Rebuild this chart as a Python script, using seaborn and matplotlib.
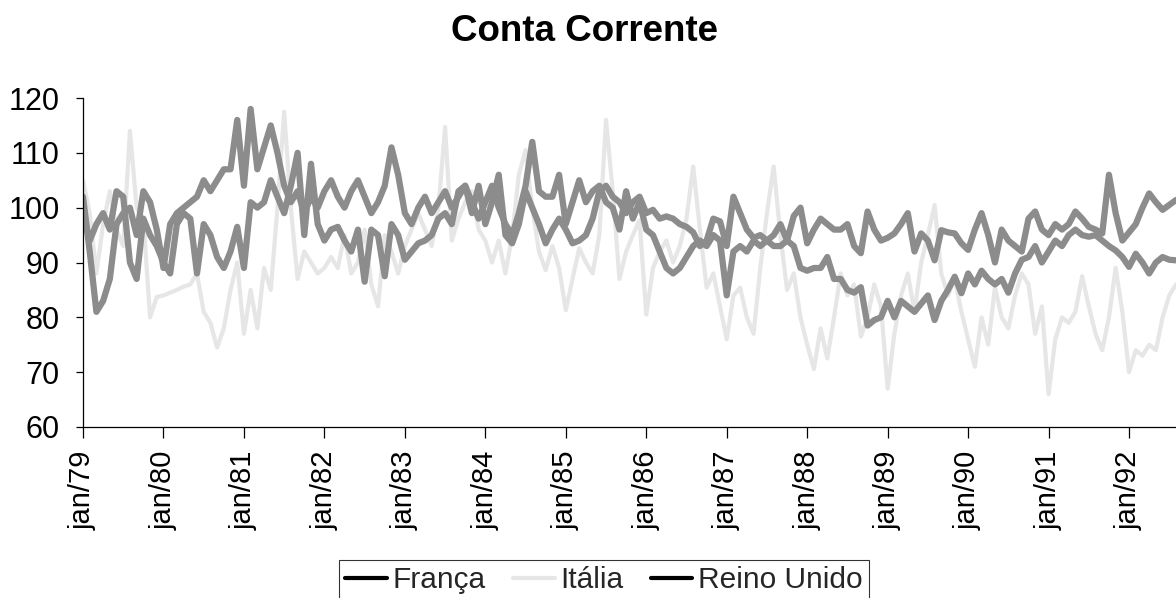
import numpy as np
import pandas as pd
import matplotlib
matplotlib.use("Agg")
import matplotlib.pyplot as plt
from matplotlib.lines import Line2D
import seaborn as sns

# ---------------- data (monthly, jan/79 onwards) ----------------
tick_labels = ["jan/79", "jan/80", "jan/81", "jan/82", "jan/83", "jan/84", "jan/85",
               "jan/86", "jan/87", "jan/88", "jan/89", "jan/90", "jan/91", "jan/92"]

reino_unido = [
    102, 92, 81, 83, 87, 97, 99, 100, 95, 103, 101, 96,            # 1979
    89, 97, 99, 100, 101, 102, 105, 103, 105, 107, 107, 116,       # 1980
    104, 118, 107, 111, 115, 110, 104, 101, 103, 99, 102, 100,     # 1981
    103, 105, 102, 100, 103, 105, 102, 99, 101, 104, 111, 106,     # 1982
    99, 97, 100, 102, 99, 101, 103, 100, 102, 104, 101, 98,        # 1983
    101, 104, 100, 97, 95, 99, 104, 112, 103, 102, 102, 106,       # 1984
    97, 101, 105, 101, 103, 104, 101, 100, 96, 103, 98, 101,       # 1985
    96, 95, 92, 89, 88, 89, 91, 93, 94, 93, 95, 94,                # 1986
    84, 92, 93, 92, 94, 93, 94, 93, 93, 94, 93, 89,                # 1987
    88.5, 89, 89, 91, 87, 87, 85, 84.5, 85.5, 78.5, 79.5, 80,      # 1988
    83, 80, 83, 82, 81, 82.5, 84, 79.5, 83, 85, 87.4, 84.4,        # 1989
    88, 86, 88.5, 87, 86, 87, 84.5, 88, 90.5, 91, 93, 90,          # 1990
    92, 94, 93, 95, 96, 95, 94.7, 95, 94, 93, 92.2, 91,            # 1991
    89.2, 91.6, 90, 88, 90, 91, 90.5, 90.4,                        # 1992
]

franca = [
    99, 94, 97, 99, 96, 103, 102, 90, 87, 98, 95, 93,              # 1979
    90, 88, 97, 99, 98, 88, 97, 95, 91, 89, 92, 96.5,              # 1980
    89, 101, 100, 101, 105, 102, 99, 104, 110, 95, 108, 97,        # 1981
    94, 96, 96.5, 94, 92, 96, 86.5, 96, 95, 87.5, 97, 95,          # 1982
    90.5, 92, 93.5, 94, 95, 98, 99, 97, 103, 104, 99, 104,         # 1983
    97, 101, 106, 95, 93.5, 97, 103, 100, 97, 93.5, 96, 98,        # 1984
    96, 93.5, 94, 95, 98, 103, 104, 102, 101, 99, 101, 102,        # 1985
    99, 99.6, 98, 98.4, 98, 97, 96.5, 95.5, 93, 94, 98, 97.5,      # 1986
    93, 102, 99, 96, 94.5, 95, 94, 95, 97, 94, 98.5, 100,          # 1987
    93.5, 96, 98, 97, 96, 96, 97, 93, 91.7, 99.3, 96, 94,          # 1988
    94.5, 95.3, 97, 99, 92, 95.3, 94, 90.4, 95.9, 95.5, 95.3, 93.5,# 1989
    92.3, 96, 99, 95, 90, 96, 94, 93, 92, 98, 99.3, 96,            # 1990
    95, 97, 96, 97, 99.3, 98, 96.5, 96, 95.3, 106, 99, 94,         # 1991
    95.5, 97, 100, 102.6, 101, 99.6, 100.5, 101.4,                 # 1992
]

italia = [
    105, 99, 88, 97, 103, 96, 93, 114, 100, 98, 80, 83.7,          # 1979
    84, 84.5, 85, 85.6, 86, 88, 81, 79, 74.5, 78, 85, 90,          # 1980
    77, 85, 78, 89, 85, 100, 117.5, 100, 87, 92, 90, 88,           # 1981
    89, 91, 89, 95, 88, 90, 96, 86, 82, 95, 92, 88,                # 1982
    93, 96, 99, 96, 93, 100, 114.7, 94, 98, 101, 103, 96,          # 1983
    94, 90, 94, 88, 95, 106, 110.5, 100, 92, 88.6, 93, 89,         # 1984
    81.3, 87, 92.6, 90, 88, 95, 116, 103, 87, 92, 95, 97.7,        # 1985
    80.5, 89, 92, 94, 90, 93, 98, 107.5, 96, 85.4, 88, 82,         # 1986
    76, 84, 85.4, 80, 77, 89, 99, 107.5, 95, 85, 88, 80,           # 1987
    75, 70.6, 78, 72.5, 80, 88, 84, 86, 76.5, 80, 86, 82,          # 1988
    67, 77, 84, 88, 81, 90, 95, 100.5, 88, 84, 87, 81,             # 1989
    76, 71, 80, 75, 85.5, 80, 78, 84, 88, 86, 77, 82,              # 1990
    66, 76, 80, 79, 81, 87.5, 82, 77, 74, 80, 89, 81,              # 1991
    70, 74, 73, 75, 74, 80, 84, 86,                                # 1992
]

series_names = ["França", "Itália", "Reino Unido"]

# ---------------- figure ----------------
sns.set_theme(style="white")
plt.rcParams['font.family'] = ['Liberation Sans', 'DejaVu Sans']

months = np.arange(len(franca))
df = pd.DataFrame({"mes": np.concatenate([months, months, months]),
                   "valor": np.concatenate([italia, franca, reino_unido]),
                   "serie": ["Itália"] * len(months) + ["França"] * len(months)
                            + ["Reino Unido"] * len(months)})

W, H = 1176, 598
fig = plt.figure(figsize=(W / 100, H / 100), dpi=100)
ax = fig.add_axes([83 / W, 1 - 427 / H, 1 - 83 / W, (427 - 98) / H])

light = "#e6e6e6"
mid = "#8c8c8c"
sns.lineplot(data=df[df.serie == "Itália"], x="mes", y="valor", ax=ax,
             color=light, lw=3.0, legend=False)
sns.lineplot(data=df[df.serie == "França"], x="mes", y="valor", ax=ax,
             color=mid, lw=4.5, legend=False)
sns.lineplot(data=df[df.serie == "Reino Unido"], x="mes", y="valor", ax=ax,
             color=mid, lw=4.5, legend=False)

ax.set_xlim(0, len(months) - 1)
ax.set_ylim(60, 120)
ax.set_yticks(range(60, 121, 10))
ax.set_xticks(np.arange(len(tick_labels)) * 12)
ax.set_xticklabels(tick_labels, rotation=90)
ax.set_xlabel("")
ax.set_ylabel("")

for s in ["top", "right"]:
    ax.spines[s].set_visible(False)
for s in ["left", "bottom"]:
    ax.spines[s].set_color("black")
    ax.spines[s].set_linewidth(0.9)

ax.tick_params(axis="y", direction="out", length=5, width=0.9, colors="black",
               labelsize=22, pad=12, left=True)
ax.tick_params(axis="x", direction="out", length=8, width=0.9, colors="black",
               labelsize=21, pad=9, bottom=True)

fig.text(0.497, 0.948, "Conta Corrente", ha="center", va="center",
         fontsize=26.5, fontweight="bold", color="black")

handles = [Line2D([], [], color="black", lw=3.0),
           Line2D([], [], color=light, lw=3.0),
           Line2D([], [], color="black", lw=3.0)]
leg = fig.legend(handles, series_names, loc="center",
                 bbox_to_anchor=(604 / W, 1 - 580 / H), ncol=3, frameon=True,
                 fancybox=False, edgecolor="black", fontsize=21.5,
                 handlelength=1.4, handletextpad=0.2, columnspacing=0.9,
                 borderpad=0.2, borderaxespad=0)
leg.get_frame().set_linewidth(0.8)

fig.savefig("out.png", dpi=100, facecolor="white")
